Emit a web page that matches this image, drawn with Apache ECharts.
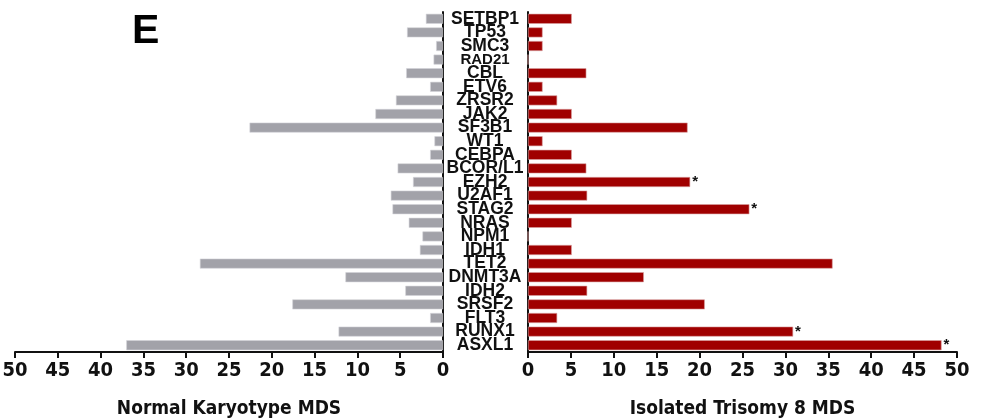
<!DOCTYPE html>
<html>
<head>
<meta charset="utf-8">
<script src="https://cdn.jsdelivr.net/npm/echarts@6/dist/echarts.min.js"></script>
<style>
  html, body { margin: 0; padding: 0; background: #fff; }
  #chart { width: 982px; height: 419px; }
</style>
</head>
<body>
<div id="chart"></div>
<script>
// genes, top to bottom
const genes = ["SETBP1", "TP53", "SMC3", "RAD21", "CBL", "ETV6", "ZRSR2", "JAK2", "SF3B1", "WT1",
  "CEBPA", "BCOR/L1", "EZH2", "U2AF1", "STAG2", "NRAS", "NPM1", "IDH1", "TET2", "DNMT3A",
  "IDH2", "SRSF2", "FLT3", "RUNX1", "ASXL1"];
// % mutated, normal karyotype MDS
const normalKaryotype = [2.0, 4.2, 0.8, 1.1, 4.3, 1.5, 5.5, 7.9, 22.6, 1.0,
  1.5, 5.3, 3.5, 6.1, 5.9, 4.0, 2.4, 2.7, 28.4, 11.4,
  4.4, 17.6, 1.5, 12.2, 37.0];
// % mutated, isolated trisomy 8 MDS
const trisomy8 = [5.1, 1.7, 1.7, 0, 6.8, 1.7, 3.4, 5.1, 18.6, 1.7,
  5.1, 6.8, 18.9, 6.9, 25.8, 5.1, 0, 5.1, 35.5, 13.5,
  6.9, 20.6, 3.4, 30.9, 48.2];
// significance markers
const significant = ["EZH2", "STAG2", "RUNX1", "ASXL1"];
const ticks = [0, 5, 10, 15, 20, 25, 30, 35, 40, 45, 50];

const narrow = "'Liberation Sans Narrow', 'DejaVu Sans Condensed', 'Liberation Sans', sans-serif";
const sans = "'Liberation Sans', Arial, sans-serif";
const chart = echarts.init(document.getElementById("chart"));

const axisLineStyle = { color: "#111", width: 2 };

const xAxisBase = (inverse, name) => ({
  type: "value",
  min: 0,
  max: 50,
  interval: 5,
  inverse: inverse,
  name: name,
  nameLocation: "middle",
  nameGap: 48,
  nameTextStyle: { fontFamily: narrow, fontWeight: "bold", fontSize: 19, color: "#111" },
  axisLine: { show: true, lineStyle: axisLineStyle },
  axisTick: { show: true, length: 6, lineStyle: { color: "#111", width: 2 } },
  axisLabel: {
    margin: 9,
    fontFamily: narrow,
    fontWeight: "bold",
    fontSize: 20,
    color: "#111",
    formatter: (v) => (ticks.includes(v) ? String(v) : "")
  },
  splitLine: { show: false }
});

chart.setOption({
  animation: false,
  title: {
    text: "E",
    left: 127,
    top: 6,
    textStyle: { fontFamily: sans, fontWeight: "bold", fontSize: 41, color: "#000" }
  },
  grid: [
    { left: 15, right: 539, top: 12, height: 340, outerBoundsMode: "none" },
    { left: 528, right: 25, top: 12, height: 340, outerBoundsMode: "none" }
  ],
  xAxis: [
    Object.assign(xAxisBase(true, "Normal Karyotype MDS"), { gridIndex: 0 }),
    Object.assign(xAxisBase(false, "Isolated Trisomy 8 MDS"), { gridIndex: 1 })
  ],
  yAxis: [
    {
      type: "category",
      gridIndex: 0,
      position: "right",
      inverse: true,
      data: genes,
      axisLine: { show: true, lineStyle: axisLineStyle },
      axisTick: { show: false },
      axisLabel: { show: false }
    },
    {
      type: "category",
      gridIndex: 1,
      position: "left",
      inverse: true,
      data: genes,
      axisLine: { show: true, lineStyle: axisLineStyle },
      axisTick: { show: false },
      axisLabel: {
        interval: 0,
        align: "center",
        margin: 43,
        fontFamily: sans,
        fontWeight: "bold",
        fontSize: 17.5,
        color: "#111",
        // RAD21 is set smaller in the original figure
        formatter: (v) => (v === "RAD21" ? "{s|" + v + "}" : v),
        rich: {
          s: { fontFamily: sans, fontWeight: "bold", fontSize: 15, color: "#111" }
        }
      }
    }
  ],
  series: [
    {
      type: "bar",
      xAxisIndex: 0,
      yAxisIndex: 0,
      data: normalKaryotype,
      barWidth: 10,
      itemStyle: { color: "#a2a2a9", borderColor: "#d4d4d8", borderWidth: 0.6 }
    },
    {
      type: "bar",
      xAxisIndex: 1,
      yAxisIndex: 1,
      data: trisomy8,
      barWidth: 10,
      itemStyle: { color: "#a00000", borderColor: "#d8a0a0", borderWidth: 0.6 },
      label: {
        show: true,
        position: "right",
        distance: 2,
        fontFamily: sans,
        fontWeight: "bold",
        fontSize: 15,
        color: "#111",
        formatter: (p) => (significant.includes(genes[p.dataIndex]) ? "*" : "")
      }
    }
  ]
});
</script>
</body>
</html>
